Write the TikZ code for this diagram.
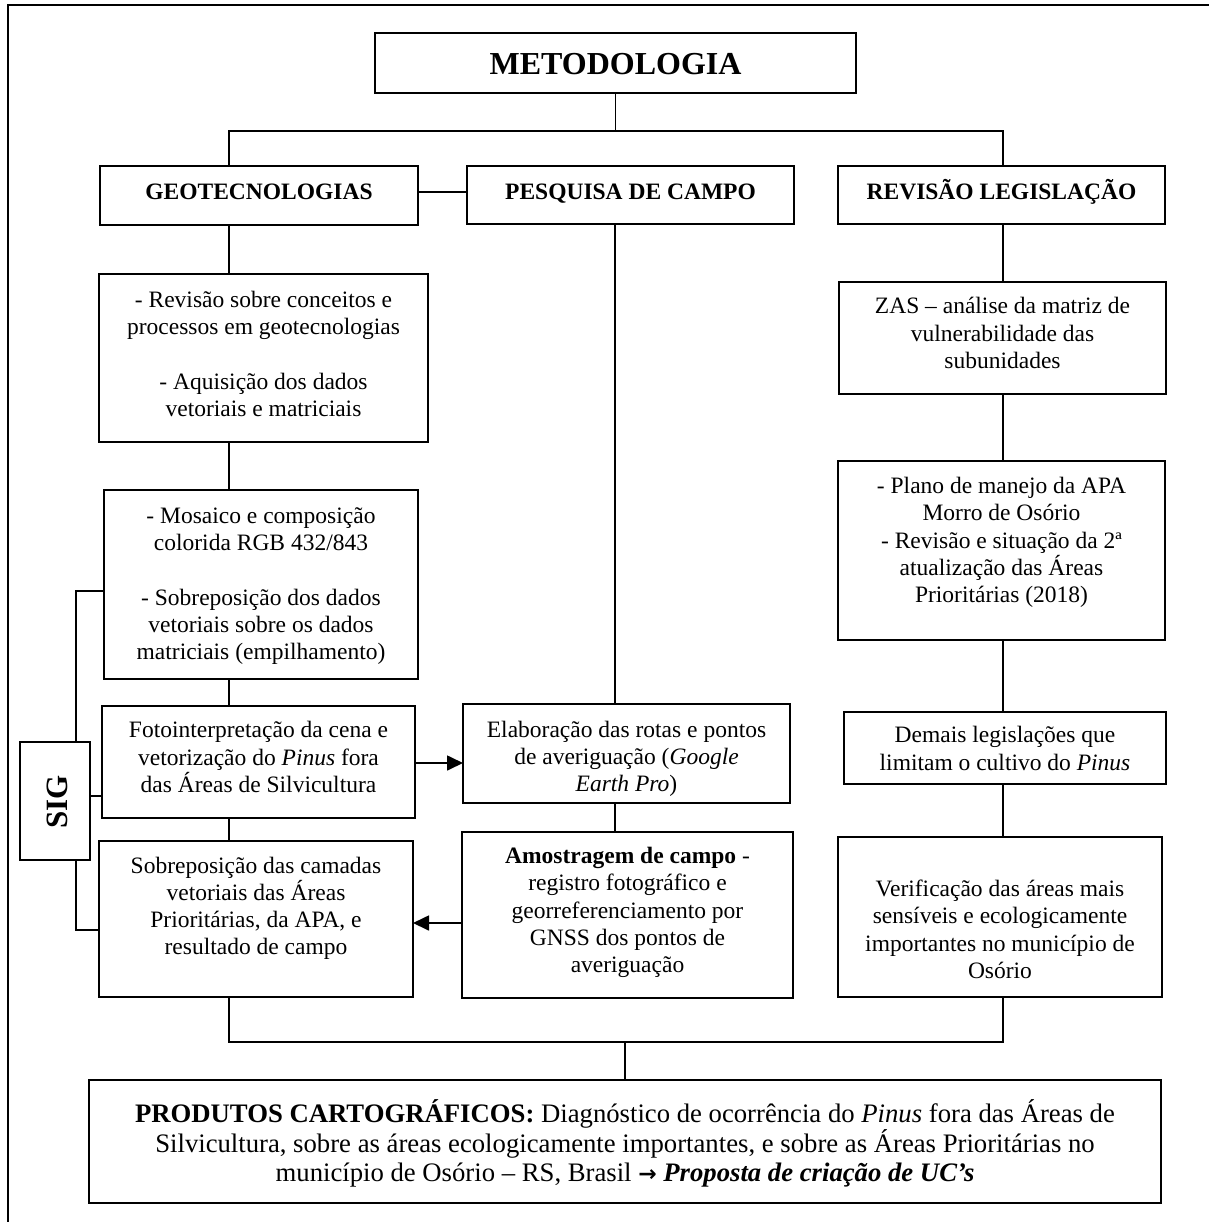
\documentclass[tikz,border=0pt]{standalone}
\usepackage{fontspec}
\setmainfont{Liberation Serif}
\newfontfamily\arrowfont{DejaVu Sans}
\usetikzlibrary{arrows.meta}
\newcommand\bodyfont{\fontsize{23.5}{27.3}\selectfont}
\newcommand\ts{\rule{0pt}{22pt}}
\newcommand\bs{\rule[-11pt]{0pt}{11pt}}
\newcommand\drawbox[5]{\node[box, minimum width={(#4)-(#2)}, minimum height={(#5)-(#3)}] (#1) at ({((#2)+(#4))/2},{((#3)+(#5))/2}) {};}
\begin{document}
\begin{tikzpicture}[x=1pt,y=-1pt,
  box/.style={draw,line width=1.7pt,fill=white,inner sep=0pt,outer sep=0pt},
  txt/.style={align=center,inner sep=0pt,font=\bodyfont},
  conn/.style={line width=1.7pt},
  arr/.style={line width=1.7pt,-{Triangle[length=16pt,width=15pt]}}]
\useasboundingbox (0,0) rectangle (1208,1222);
\fill[white] (0,0) rectangle (1208,1222);
% frame (open beyond the picture edges)
\draw[line width=1.8pt] (8,1240) -- (8,5) -- (1230,5);

% column guide coordinates
\coordinate (c1) at (229,0);
\coordinate (c2) at (615,0);
\coordinate (c3) at (1003,0);
\coordinate (top) at (0,131);
\coordinate (bot) at (0,1042);
\coordinate (gp) at (0,192);
\coordinate (sigtop) at (76,591);
\coordinate (sigbot) at (76,930);
\coordinate (sigmid) at (0,796);
\coordinate (a1) at (0,763);
\coordinate (a2) at (0,923);

% boxes
\drawbox{met}{375}{33}{856}{93}
\drawbox{geo}{100}{166}{418}{225}
\drawbox{pesq}{467}{166}{794}{224}
\drawbox{revl}{838}{166}{1165}{224}
\drawbox{rev}{99}{274}{428}{442}
\drawbox{mos}{104}{490}{418}{679}
\drawbox{foto}{102}{706}{415}{818}
\drawbox{sob}{99}{841}{413}{997}
\drawbox{elab}{463}{704}{790}{803}
\drawbox{amo}{462}{832}{793}{998}
\drawbox{zas}{839}{282}{1166}{394}
\drawbox{plano}{838}{461}{1165}{640}
\drawbox{dem}{844}{712}{1166}{784}
\drawbox{ver}{838}{837}{1162}{997}
\drawbox{prod}{89}{1080}{1161}{1203}

% texts
\node[txt] (metT) at (615.5,64) {\fontsize{32}{36}\selectfont\bfseries METODOLOGIA};
\node[txt] (geoT) at (259,194.5) {\ts\bfseries GEOTECNOLOGIAS\bs};
\node[txt] (pesqT) at (630.5,194.5) {\ts\bfseries PESQUISA DE CAMPO\bs};
\node[txt] (revlT) at (1001.5,194.5) {\ts\bfseries REVISÃO LEGISLAÇÃO\bs};
\node[txt] (revT) at (263.5,356.5) {\ts- Revisão sobre conceitos e\\ processos em geotecnologias\\[27.3pt] - Aquisição dos dados\\ vetoriais e matriciais\bs};
\node[txt] (mosT) at (261,586) {\ts- Mosaico e composição\\ colorida RGB 432/843\\[27.3pt] - Sobreposição dos dados\\ vetoriais sobre os dados\\ matriciais (empilhamento)\bs};
\node[txt] (fotoT) at (258.5,759.5) {\ts Fotointerpretação da cena e\\ vetorização do \textit{Pinus} fora\\ das Áreas de Silvicultura\bs};
\node[txt] (sobT) at (256,908.5) {\ts Sobreposição das camadas\\ vetoriais das Áreas\\ Prioritárias, da APA, e\\ resultado de campo\bs};
\node[txt] (elabT) at (626.5,759) {\ts Elaboração das rotas e pontos\\ de averiguação (\textit{Google}\\ \textit{Earth Pro})\bs};
\node[txt] (amoT) at (627.5,912.5) {\ts\textbf{Amostragem de campo} -\\ registro fotográfico e\\ georreferenciamento por\\ GNSS dos pontos de\\ averiguação\bs};
\node[txt] (zasT) at (1002.5,335.5) {\ts ZAS – análise da matriz de\\ vulnerabilidade das\\ subunidades\bs};
\node[txt] (planoT) at (1001.5,542.5) {\ts - Plano de manejo da APA\\ Morro de Osório\\ - Revisão e situação da 2ª\\ atualização das Áreas\\ Prioritárias (2018)\bs};
\node[txt] (demT) at (1005,751) {\ts Demais legislações que\\ limitam o cultivo do \textit{Pinus}\bs};
\node[txt] (verT) at (1000,932) {\ts Verificação das áreas mais\\ sensíveis e ecologicamente\\ importantes no município de\\ Osório\bs};
\node[txt,font={\fontsize{26.7}{29.5}\selectfont}] (prodT) at (625,1146) {\rule{0pt}{25pt}\textbf{PRODUTOS CARTOGRÁFICOS:} Diagnóstico de ocorrência do \textit{Pinus} fora das Áreas de\\ Silvicultura, sobre as áreas ecologicamente importantes, e sobre as Áreas Prioritárias no\\ município de Osório – RS, Brasil {\arrowfont\bfseries\fontsize{22}{24}\selectfont →} \textbf{\textit{Proposta de criação de UC’s}}\rule[-12.7pt]{0pt}{12.7pt}};

% connectors
\draw[conn] (met.south) -- (met.south |- top);
\draw[conn] (geo.north -| c1) -- (c1 |- top) -- (c3 |- top) -- (revl.north -| c3);
\draw[conn] (geo.east |- gp) -- (pesq.west |- gp);
\draw[conn] (geo.south -| c1) -- (rev.north -| c1);
\draw[conn] (rev.south -| c1) -- (mos.north -| c1);
\draw[conn] (mos.south -| c1) -- (foto.north -| c1);
\draw[conn] (foto.south -| c1) -- (sob.north -| c1);
\draw[conn] (pesq.south -| c2) -- (elab.north -| c2);
\draw[conn] (elab.south -| c2) -- (amo.north -| c2);
\draw[conn] (revl.south -| c3) -- (zas.north -| c3);
\draw[conn] (zas.south -| c3) -- (plano.north -| c3);
\draw[conn] (plano.south -| c3) -- (dem.north -| c3);
\draw[conn] (dem.south -| c3) -- (ver.north -| c3);
\draw[arr] (foto.east |- a1) -- (elab.west |- a1);
\draw[arr] (amo.west |- a2) -- (sob.east |- a2);
\draw[conn] (sob.south -| c1) -- (c1 |- bot) -- (c3 |- bot) -- (ver.south -| c3);
\draw[conn] (prod.north) -- (prod.north |- bot);

% SIG bracket
\draw[conn] (mos.west |- sigtop) -- (sigtop) -- (sigbot) -- (sob.west |- sigbot);
\drawbox{sig}{20}{742}{90}{860}
\node[txt,rotate=90] (sigT) at (57,802) {\fontsize{31}{34}\selectfont\bfseries SIG};
\draw[conn] (sig.east |- sigmid) -- (foto.west |- sigmid);
\end{tikzpicture}
\end{document}
